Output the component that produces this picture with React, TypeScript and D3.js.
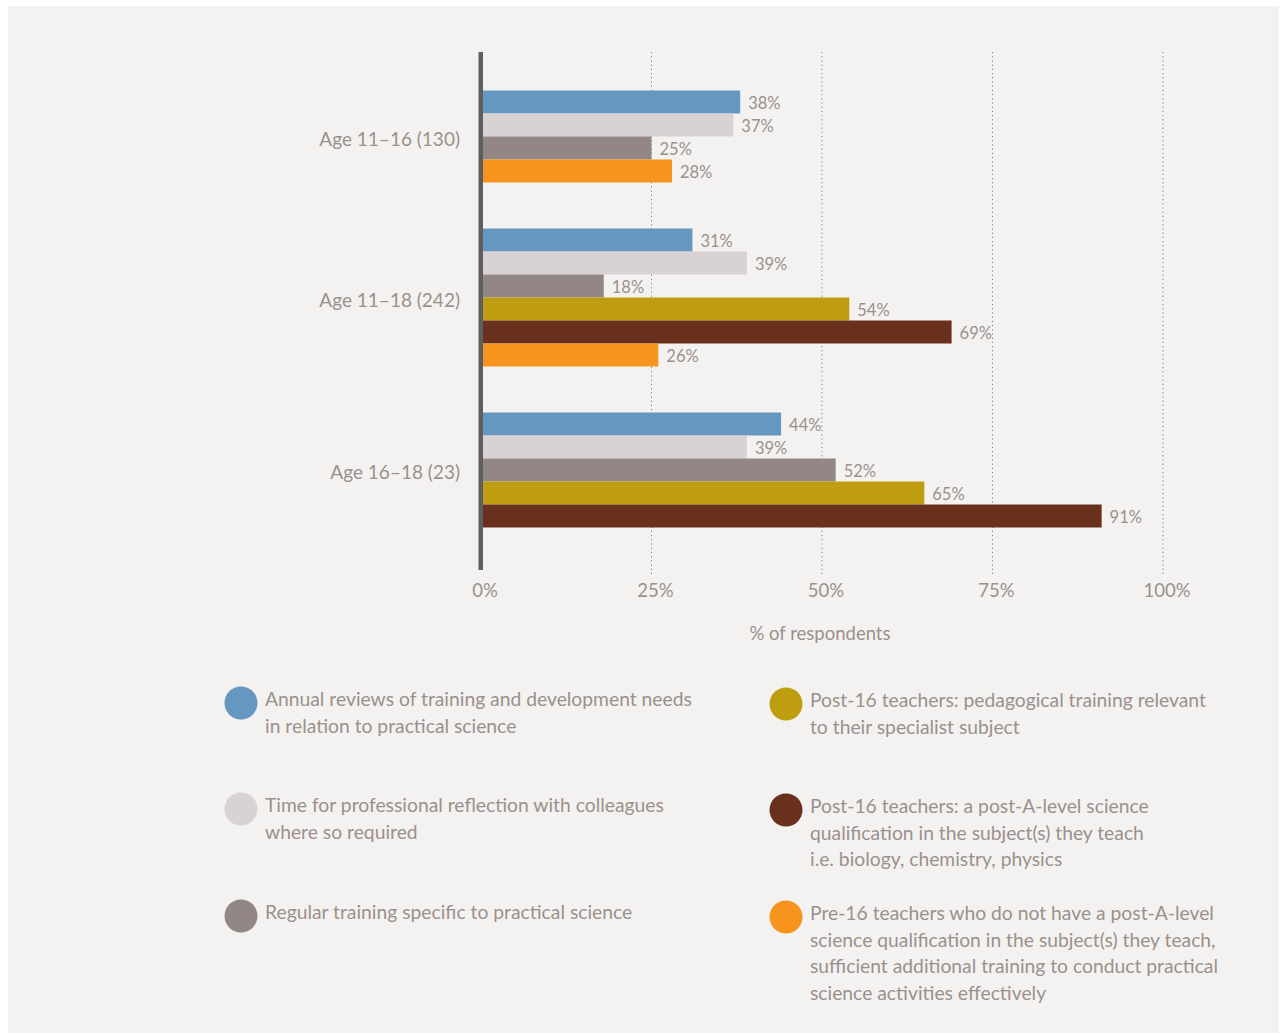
import React from "react";
import * as d3 from "d3";

// Respondent groups (with sample sizes)
const categories = ["Age 11–16 (130)", "Age 11–18 (242)", "Age 16–18 (23)"];

// Series keys in drawing order within each group
const seriesKeys = ["annual", "reflection", "regular", "pedagogical", "postALevel", "pre16"];

// Percentage of respondents per group; null = not asked for that group
const annualValues = [38, 31, 44];
const reflectionValues = [37, 39, 39];
const regularValues = [25, 18, 52];
const pedagogicalValues = [null, 54, 65];
const postALevelValues = [null, 69, 91];
const pre16Values = [28, 26, null];

const seriesColors = ["#6597c0", "#d8d2d2", "#928784", "#bf9d11", "#69301e", "#f7941d"];

const legendLines = [
  ["Annual reviews of training and development needs", "in relation to practical science"],
  ["Time for professional reflection with colleagues", "where so required"],
  ["Regular training specific to practical science"],
  ["Post-16 teachers: pedagogical training relevant", "to their specialist subject"],
  ["Post-16 teachers: a post-A-level science", "qualification in the subject(s) they teach", "i.e. biology, chemistry, physics"],
  [
    "Pre-16 teachers who do not have a post-A-level",
    "science qualification in the subject(s) they teach,",
    "sufficient additional training to conduct practical",
    "science activities effectively",
  ],
];

const xTicks = [0, 25, 50, 75, 100];
const xAxisTitle = "% of respondents";

const seriesValues = [
  annualValues,
  reflectionValues,
  regularValues,
  pedagogicalValues,
  postALevelValues,
  pre16Values,
];

const FONT = "Lato, 'Open Sans', sans-serif";
const TEXT = "#9b908d";

export default function App() {
  const W = 1283;
  const H = 1034;

  // Build the row slots: present bars per group, two empty slots between groups
  const slots: { key: string; g: number; s: number; v: number | null }[] = [];
  categories.forEach((_, g) => {
    if (g > 0) {
      slots.push({ key: `gap-${g}-a`, g: -1, s: -1, v: null });
      slots.push({ key: `gap-${g}-b`, g: -1, s: -1, v: null });
    }
    seriesKeys.forEach((_, s) => {
      const v = seriesValues[s][g];
      if (v !== null && v !== undefined) slots.push({ key: `${g}-${s}`, g, s, v });
    });
  });

  const barH = 23;
  const y = d3
    .scaleBand<string>()
    .domain(slots.map((d) => d.key))
    .range([90.5, 90.5 + slots.length * barH])
    .padding(0);

  const x = d3.scaleLinear().domain([0, 100]).range([481, 1163]);

  const bars = slots.filter((d) => d.g >= 0);

  const groupCenters = categories.map((_, g) => {
    const rows = bars.filter((d) => d.g === g);
    const top = y(rows[0].key)!;
    const bottom = y(rows[rows.length - 1].key)! + y.bandwidth();
    return (top + bottom) / 2;
  });

  const axisTop = 52;
  const axisBottom = 570;

  const legendCols = [241, 786];
  const legendRowBase = [706, 812, 919];
  const lineH = 26.7;

  return (
    <svg
      width={W}
      height={H}
      style={{ position: "absolute", left: 0, top: 0, background: "#ffffff" }}
      fontFamily={FONT}
    >
      <rect x={8} y={6} width={1271} height={1027} fill="#f4f2f0" />

      {/* dotted gridlines */}
      {xTicks.slice(1).map((t) => (
        <line
          key={`grid-${t}`}
          x1={x(t)}
          x2={x(t)}
          y1={axisTop}
          y2={axisBottom + 4}
          stroke="#7d7d7d"
          strokeWidth={1}
          strokeDasharray="1.2 3"
        />
      ))}

      {/* bars */}
      {bars.map((d) => (
        <rect
          key={d.key}
          x={483}
          y={y(d.key)}
          width={x(d.v as number) - 483}
          height={y.bandwidth()}
          fill={seriesColors[d.s]}
        />
      ))}

      {/* value labels */}
      {bars.map((d) => (
        <text
          key={`lbl-${d.key}`}
          x={x(d.v as number) + 8}
          y={y(d.key)! + y.bandwidth() / 2 + 7}
          fontSize={16.5}
          fill={TEXT}
        >
          {`${d.v}%`}
        </text>
      ))}

      {/* vertical axis line */}
      <rect x={478.5} y={axisTop} width={4.5} height={axisBottom - axisTop} fill="#5e5e5e" />

      {/* group labels */}
      {categories.map((c, g) => (
        <text
          key={c}
          x={460}
          y={groupCenters[g] + 9}
          textAnchor="end"
          fontSize={19}
          fill={TEXT}
        >
          {c}
        </text>
      ))}

      {/* x tick labels */}
      {xTicks.map((t) => (
        <text key={`tick-${t}`} x={x(t) + 4} y={597} textAnchor="middle" fontSize={18.5} fill={TEXT}>
          {`${t}%`}
        </text>
      ))}

      <text x={820} y={640} textAnchor="middle" fontSize={18.5} fill={TEXT}>
        {xAxisTitle}
      </text>

      {/* legend */}
      {legendLines.map((lines, i) => {
        const col = Math.floor(i / 3);
        const row = i % 3;
        const cx = legendCols[col];
        const base = legendRowBase[row] + (col === 1 ? 1 : 0);
        return (
          <g key={`legend-${i}`}>
            <circle cx={cx} cy={base - 3} r={16.5} fill={seriesColors[i]} />
            {lines.map((ln, k) => (
              <text key={k} x={cx + 24} y={base + k * lineH} fontSize={19.3} fill={TEXT}>
                {ln}
              </text>
            ))}
          </g>
        );
      })}
    </svg>
  );
}
